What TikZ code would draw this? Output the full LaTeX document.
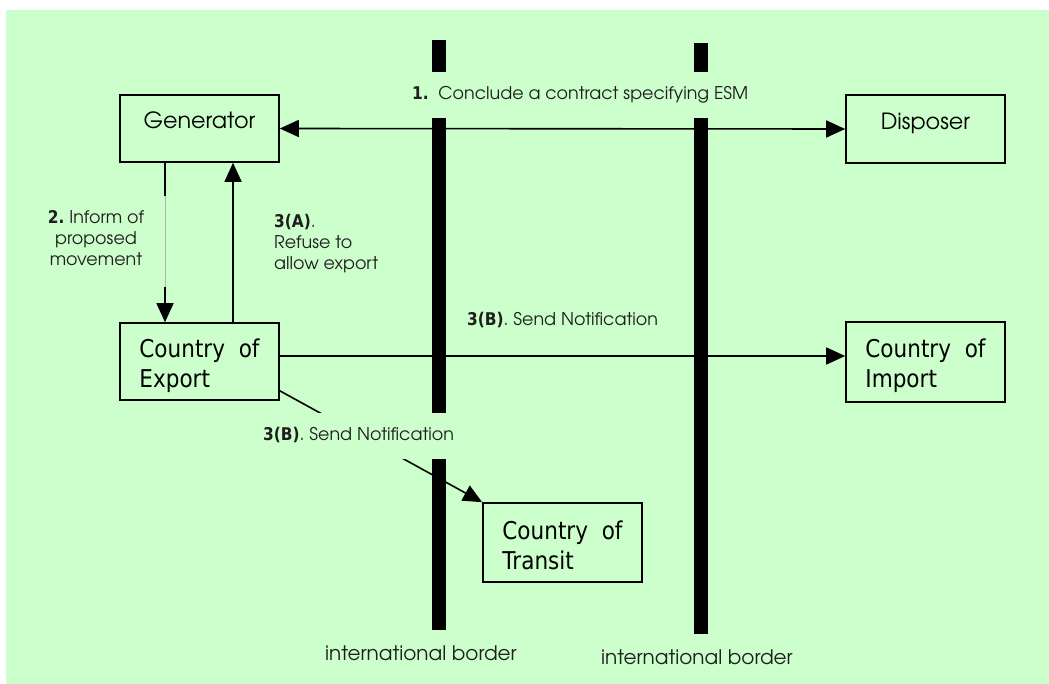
\documentclass[tikz,border=0pt]{standalone}
\usepackage{fontspec}
\usetikzlibrary{arrows.meta,calc}
\IfFontExistsTF{TeX Gyre Adventor}{\newfontfamily\cgfont{TeX Gyre Adventor}}{\newfontfamily\cgfont{Poppins}}
\newfontfamily\tahfont[FakeStretch=0.88]{DejaVu Sans}
\definecolor{bg}{HTML}{CCFFCC}
\definecolor{ink}{HTML}{1E1E1E}
\newcommand{\nb}[1]{{\tahfont\bfseries #1}}
\tikzset{
  box/.style={draw, line width=1.6pt, inner sep=0pt, minimum width=159pt, text=black},
  cgbox/.style={box, font={\cgfont\fontsize{22.3pt}{26pt}\selectfont}},
  tbox/.style={box, align=left, font={\tahfont\fontsize{24.5pt}{30pt}\selectfont}},
  conn/.style={line width=1.6pt},
  lab/.style={text=ink, font={\cgfont\fontsize{17.5pt}{21pt}\selectfont}, inner sep=0pt},
  blab/.style={lab, font={\cgfont\fontsize{20pt}{24pt}\selectfont}},
  border/.style={line width=14pt},
  >={Triangle[length=19pt,width=17pt]}
}
\begin{document}
\begin{tikzpicture}[x=1pt,y=-1pt]
\useasboundingbox (0,0) rectangle (1049,684);
\fill[white] (0,0) rectangle (1049,684);
\fill[bg] (6,10) rectangle (1049,684);
% borders
\draw[border] (438.5,40) -- (438.5,630);
\draw[border] (700.5,43) -- (700.5,634);
% boxes
\node[cgbox, minimum height=67pt, text height=8pt, text depth=7pt] (gen) at (199.5,128.5) {Generator};
\node[cgbox, minimum height=68pt, text height=9pt, text depth=7pt] (disp) at (925.5,129) {Disposer};
\node[tbox, minimum height=77pt, text height=55pt, text depth=4pt] (exp) at (199.5,361.5) {Country\ \ of\\Export};
\node[tbox, minimum height=80pt, text height=56pt, text depth=4pt] (imp) at (925.5,362) {Country\ \ of\\Import};
\node[tbox, minimum height=79pt, text height=57pt, text depth=4pt] (tra) at (562.5,542.5) {Country\ \ of\\Transit};
% connectors
\draw[conn,<->] (gen.east) -- (disp.west);
\coordinate (d1) at (165,196);
\coordinate (d2) at (165,287);
\draw[conn] (gen.south -| d1) -- (d1);
\draw[gray!60, line width=0.6pt] (d1) -- (d2);
\draw[conn,->] (d2) -- (exp.north -| d2);
\coordinate (u) at (233,250);
\draw[conn,->] (exp.north -| u) -- (gen.south -| u);
\coordinate (h) at (500,356);
\draw[conn,->] (exp.east |- h) -- (imp.west |- h);
\draw[conn,->] ($(exp.south east)+(0,-10)$) -- (tra.north west);
% labels
\node[lab, fill=bg, anchor=west, minimum height=46pt, text height=18pt, text depth=8pt, inner xsep=4pt] (l1) at (408,95) {\nb{1.}\ \ Conclude a contract specifying ESM};
\node[lab, anchor=base, align=center] (l2) at (96,266) {\nb{2.}\ Inform of\\proposed\\movement};
\node[lab, anchor=base west, align=left] (l3a) at (274,270) {\nb{3(A)}.\\Refuse to\\allow export};
\node[lab, anchor=base west] (l3b) at (467,326) {\nb{3(B)}. Send Notification};
\node[lab, fill=bg, anchor=west, minimum height=46pt, text height=16pt, text depth=8pt, inner xsep=4pt] (l3c) at (259,436) {\nb{3(B)}. Send Notification};
\node[blab, anchor=base west] (b1) at (325,660) {international border};
\node[blab, anchor=base west] (b2) at (601,664) {international border};
\end{tikzpicture}
\end{document}
